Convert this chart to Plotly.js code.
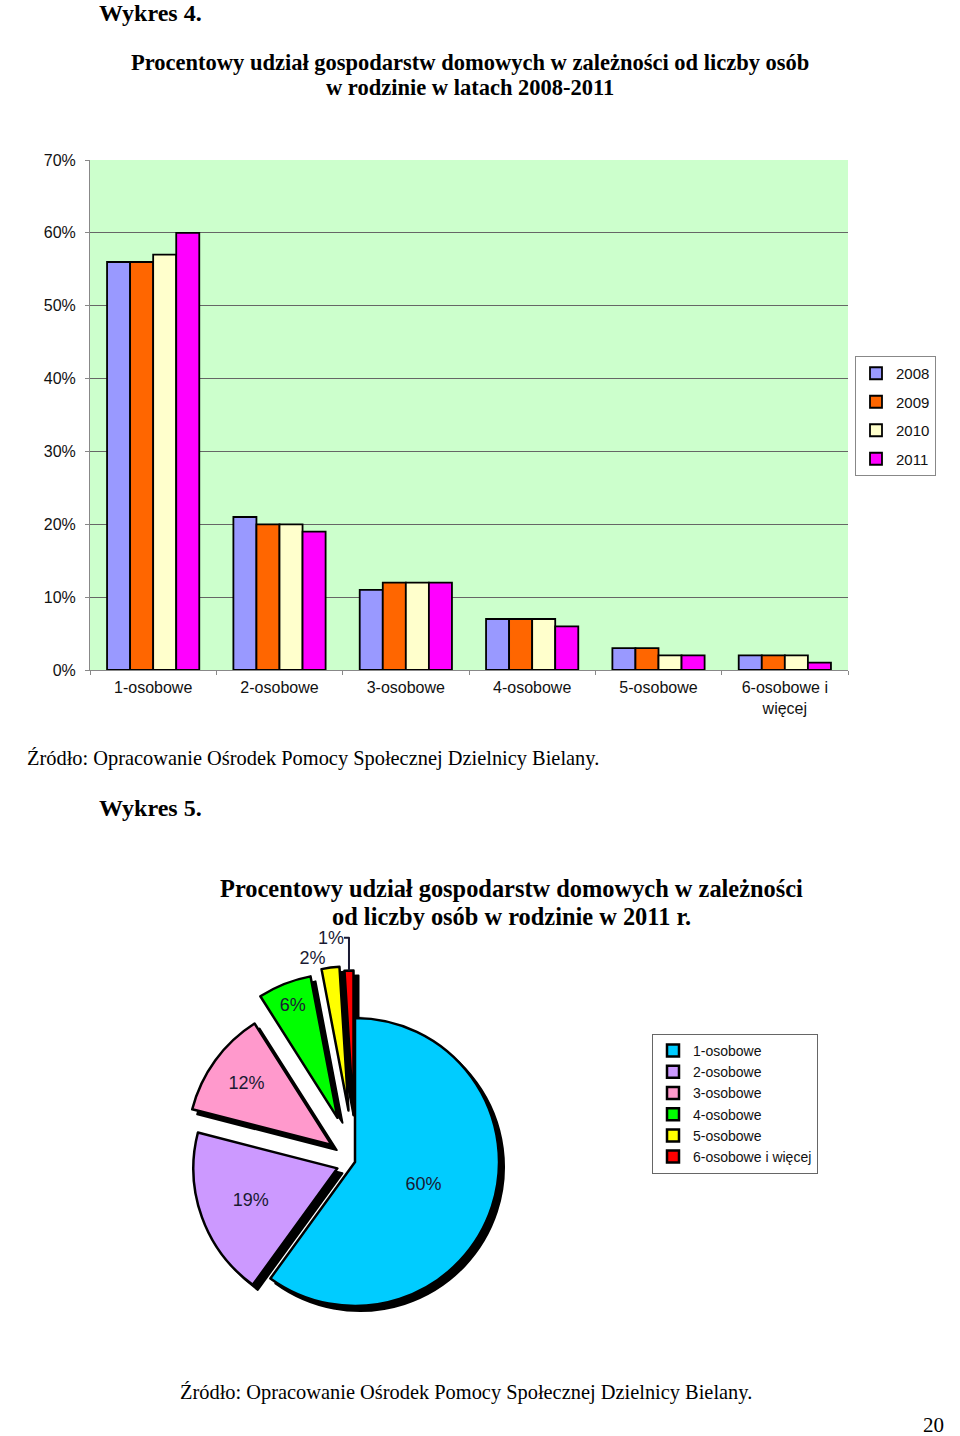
<!DOCTYPE html>
<html>
<head>
<meta charset="utf-8">
<script src="https://cdn.plot.ly/plotly-3.0.1.min.js"></script>
<style>html,body{margin:0;padding:0;background:#fff;}#chart{width:960px;height:1436px;}</style>
</head>
<body>
<div id="chart"></div>
<script>
// ---- data ----
const categories = ['1-osobowe', '2-osobowe', '3-osobowe', '4-osobowe', '5-osobowe', '6-osobowe i<br>więcej'];
const years = ['2008', '2009', '2010', '2011'];
const values2008 = [56, 21, 11, 7, 3, 2];
const values2009 = [56, 20, 12, 7, 3, 2];
const values2010 = [57, 20, 12, 7, 2, 2];
const values2011 = [60, 19, 12, 6, 2, 1];
const yTickValues = [0, 10, 20, 30, 40, 50, 60, 70];
const yTickLabels = ['0%', '10%', '20%', '30%', '40%', '50%', '60%', '70%'];

const pieLabels = ['1-osobowe', '2-osobowe', '3-osobowe', '4-osobowe', '5-osobowe', '6-osobowe i więcej'];
const pieValues = [60, 19, 12, 6, 2, 1];

// ---- styling ----
const W = 960, H = 1436;
const px = x => x / W;
const py = y => 1 - y / H;
const barColors = ['#9999FF', '#FF6600', '#FFFFCC', '#FF00FF'];
const pieColors = ['#00CCFF', '#CC99FF', '#FF99CC', '#00FF00', '#FFFF00', '#FF0000'];
const piePull = [0, 0.13, 0.2, 0.33, 0.36, 0.33];
const sans = 'Liberation Sans, Arial, sans-serif';
const serif = 'Liberation Serif, Times New Roman, serif';

const series = [values2008, values2009, values2010, values2011];
const traces = series.map((vals, i) => ({
  type: 'bar',
  x: categories,
  y: vals,
  name: years[i],
  legendgroup: years[i],
  legend: 'legend',
  marker: {color: barColors[i], line: {color: '#000', width: 1.8}},
  hoverinfo: 'x+y+name'
}));

// pie geometry: centre (355,1162), radius ~144
const cx = 355, cy = 1162, r = 144;
const maxPull = Math.max(...piePull);
const half = r * (1 + maxPull);
const sh = 5;
traces.push({
  type: 'pie',
  values: pieValues,
  labels: pieLabels,
  sort: false,
  direction: 'clockwise',
  rotation: 0,
  pull: piePull,
  marker: {colors: pieLabels.map(() => '#000'), line: {color: '#000', width: 2}},
  textinfo: 'none',
  hoverinfo: 'skip',
  showlegend: false,
  legend: 'legend2',
  domain: {x: [px(cx - half + sh), px(cx + half + sh)], y: [py(cy + half + sh), py(cy - half + sh)]}
});
traces.push({
  type: 'pie',
  values: pieValues,
  labels: pieLabels,
  sort: false,
  direction: 'clockwise',
  rotation: 0,
  pull: piePull,
  marker: {colors: pieColors, line: {color: '#000', width: 2.5}},
  texttemplate: '%{value}%',
  textposition: ['inside', 'inside', 'inside', 'inside', 'outside', 'outside'],
  insidetextorientation: 'horizontal',
  textfont: {family: sans, size: 18, color: '#1a1a33'},
  legend: 'legend2',
  domain: {x: [px(cx - half), px(cx + half)], y: [py(cy + half), py(cy - half)]}
});

function ann(text, x, y, size, bold, anchor) {
  return {
    text: bold ? '<b>' + text + '</b>' : text,
    x: px(x), y: py(y), xref: 'paper', yref: 'paper',
    xanchor: anchor || 'left', yanchor: 'middle', showarrow: false,
    font: {family: serif, size: size, color: '#000'}
  };
}

const layout = {
  width: W, height: H,
  margin: {l: 0, r: 0, t: 0, b: 0},
  paper_bgcolor: '#fff',
  plot_bgcolor: '#CCFFCC',
  barmode: 'group',
  bargap: 0.27,
  bargroupgap: 0,
  showlegend: true,
  xaxis: {
    domain: [px(90), px(848)],
    showline: true, linecolor: '#888', linewidth: 1,
    ticks: 'outside', ticklen: 4, tickcolor: '#888', tickson: 'boundaries',
    ticklabelstandoff: 3,
    tickfont: {family: sans, size: 16, color: '#111'},
    showgrid: false, fixedrange: true
  },
  yaxis: {
    domain: [py(670), py(160)],
    range: [0, 70],
    tickmode: 'array',
    tickvals: yTickValues,
    ticktext: yTickLabels,
    showline: true, linecolor: '#888', linewidth: 1,
    ticks: 'outside', ticklen: 4, tickcolor: '#888',
    ticklabelstandoff: 6,
    gridcolor: '#666', gridwidth: 1,
    zeroline: false,
    tickfont: {family: sans, size: 16, color: '#111'},
    fixedrange: true
  },
  legend: {
    x: px(855), y: py(356), xanchor: 'left', yanchor: 'top',
    bordercolor: '#888', borderwidth: 1, bgcolor: '#fff',
    font: {family: sans, size: 15, color: '#111'},
    traceorder: 'grouped', tracegroupgap: 6,
    itemwidth: 30
  },
  legend2: {
    x: px(652), y: py(1034), xanchor: 'left', yanchor: 'top',
    bordercolor: '#666', borderwidth: 1, bgcolor: '#fff',
    font: {family: sans, size: 14, color: '#111'},
    itemwidth: 30
  },
  annotations: [
    ann('Wykres 4.', 97, 13, 24, true),
    ann('Procentowy udział gospodarstw domowych w zależności od liczby osób', 470, 62, 22.5, true, 'center'),
    ann('w rodzinie w latach 2008-2011', 470, 88, 22.5, true, 'center'),
    ann('Źródło: Opracowanie Ośrodek Pomocy Społecznej Dzielnicy Bielany.', 25, 758, 20.4, false),
    ann('Wykres 5.', 97, 808, 24, true),
    ann('Procentowy udział gospodarstw domowych w zależności', 511, 888, 24.4, true, 'center'),
    ann('od liczby osób w rodzinie w 2011 r.', 511, 916, 24.4, true, 'center'),
    ann('Źródło: Opracowanie Ośrodek Pomocy Społecznej Dzielnicy Bielany.', 178, 1392, 20.4, false),
    ann('20', 946, 1425, 21, false, 'right')
  ]
};

Plotly.newPlot('chart', traces, layout, {displayModeBar: false, staticPlot: true});
</script>
</body>
</html>
